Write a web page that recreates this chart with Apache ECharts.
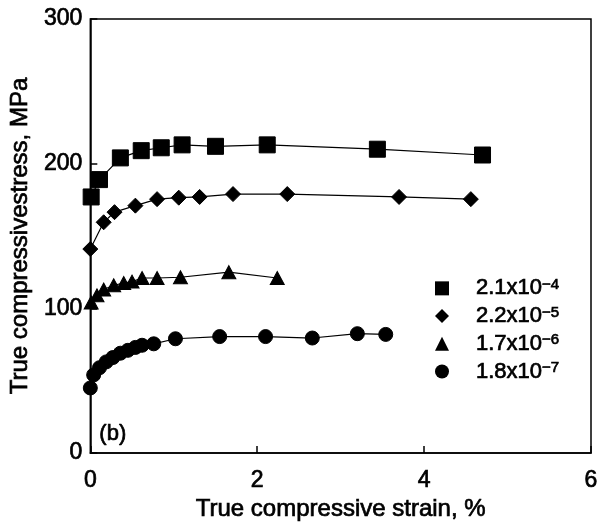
<!DOCTYPE html>
<html>
<head>
<meta charset="utf-8">
<script src="https://cdn.jsdelivr.net/npm/echarts@6/dist/echarts.min.js"></script>
<style>
  html, body { margin: 0; padding: 0; background: #fff; }
  #chart { width: 603px; height: 527px; }
</style>
</head>
<body>
<div id="chart"></div>
<script>
// Strain-rate labels (s^-1): mantissa and exponent for each curve
const rateMantissa = ['2.1', '2.2', '1.7', '1.8'];
const rateExponent = ['4', '5', '6', '7'];
const rateSymbols = ['rect', 'diamond', 'triangle', 'circle'];

// True compressive strain (%) and true compressive stress (MPa) per curve
const strainA = [0.01, 0.11, 0.36, 0.61, 0.85, 1.10, 1.50, 2.12, 3.44, 4.70];
const stressA = [177, 189, 204, 209, 211, 213, 212, 213, 210, 206];

const strainB = [0.00, 0.16, 0.29, 0.54, 0.80, 1.06, 1.31, 1.71, 2.36, 3.70, 4.56];
const stressB = [141, 159.5, 166.5, 171, 175.5, 176.5, 177, 179, 179, 177, 175.5];

const strainC = [0.01, 0.08, 0.16, 0.28, 0.40, 0.50, 0.62, 0.80, 1.08, 1.66, 2.24];
const stressC = [104, 109, 113, 116, 117.5, 118.5, 121, 121, 121.5, 125, 121];

const strainD = [0.00, 0.04, 0.11, 0.19, 0.27, 0.36, 0.45, 0.54, 0.62, 0.76, 1.02, 1.55, 2.10, 2.66, 3.20, 3.54];
const stressD = [45, 54, 59, 63, 66, 69, 71, 73, 74.5, 75.5, 79, 80.5, 80.5, 79.5, 82.5, 82];

// Axis ticks
const xTicks = [0, 2, 4, 6];
const yTicks = [0, 100, 200, 300];

const FONT = '"Liberation Sans", Arial, Helvetica, sans-serif';
// slightly heavier glyphs via a thin outline in the text colour
const INK = { color: '#000', textBorderColor: '#000', textBorderWidth: 0.7 };

function zip(xs, ys) { return xs.map((x, i) => [x, ys[i]]); }

const curves = [
  { data: zip(strainA, stressA), size: 16 },
  { data: zip(strainB, stressB), size: [15, 15] },
  { data: zip(strainC, stressC), size: [14, 13] },
  { data: zip(strainD, stressD), size: 14 }
];

const names = rateMantissa.map((m, i) => m + 'x10' + '\u2212' + rateExponent[i]);

const chart = echarts.init(document.getElementById('chart'), null, { renderer: 'canvas' });

chart.setOption({
  backgroundColor: '#fff',
  animation: false,
  grid: {
    left: 90, right: 12, top: 19, bottom: 73,
    show: true, borderColor: '#000', borderWidth: 1.5, backgroundColor: 'transparent'
  },
  xAxis: {
    type: 'value',
    min: xTicks[0], max: xTicks[xTicks.length - 1], interval: 2,
    name: 'True compressive strain, %',
    nameLocation: 'middle', nameGap: 42,
    nameTextStyle: Object.assign({ fontFamily: FONT, fontSize: 24 }, INK),
    axisLine: { show: true, lineStyle: { color: '#000', width: 1.5 } },
    axisTick: { show: true, inside: true, length: 7, lineStyle: { color: '#000', width: 1.5 } },
    axisLabel: Object.assign({ fontFamily: FONT, fontSize: 23, margin: 16 }, INK),
    splitLine: { show: false }
  },
  yAxis: {
    type: 'value',
    min: yTicks[0], max: yTicks[yTicks.length - 1], interval: 100,
    name: 'True compressivestress, MPa',
    nameLocation: 'middle', nameGap: 56,
    nameTextStyle: Object.assign({ fontFamily: FONT, fontSize: 24 }, INK),
    axisLine: { show: true, lineStyle: { color: '#000', width: 1.5 } },
    axisTick: { show: true, inside: true, length: 7, lineStyle: { color: '#000', width: 1.5 } },
    axisLabel: Object.assign({ fontFamily: FONT, fontSize: 23, margin: 8 }, INK),
    splitLine: { show: false }
  },
  legend: {
    left: 430, top: 272, orient: 'vertical',
    itemWidth: 14, itemHeight: 14, itemGap: 5,
    data: names.map((n, i) => ({ name: n, icon: rateSymbols[i] })),
    formatter: function (name) {
      const i = names.indexOf(name);
      return '{b|' + rateMantissa[i] + 'x10}{s|\u2212' + rateExponent[i] + '}';
    },
    textStyle: {
      padding: [0, 0, 0, 22],
      rich: {
        b: Object.assign({ fontFamily: FONT, fontSize: 22, lineHeight: 22 }, INK),
        s: Object.assign({ fontFamily: FONT, fontSize: 15, lineHeight: 8, verticalAlign: 'top' }, INK)
      }
    }
  },
  graphic: [{
    type: 'text', left: 99, top: 423,
    style: { text: '(b)', fontFamily: FONT, fontSize: 22, fill: '#000', stroke: '#000', lineWidth: 0.7 }
  }],
  series: curves.map((c, i) => ({
    name: names[i],
    type: 'line',
    data: c.data,
    symbol: rateSymbols[i],
    symbolSize: c.size,
    showAllSymbol: true,
    lineStyle: { color: '#000', width: 1.2 },
    itemStyle: { color: '#000', borderColor: '#000' },
    emphasis: { disabled: true }
  }))
});
</script>
</body>
</html>
